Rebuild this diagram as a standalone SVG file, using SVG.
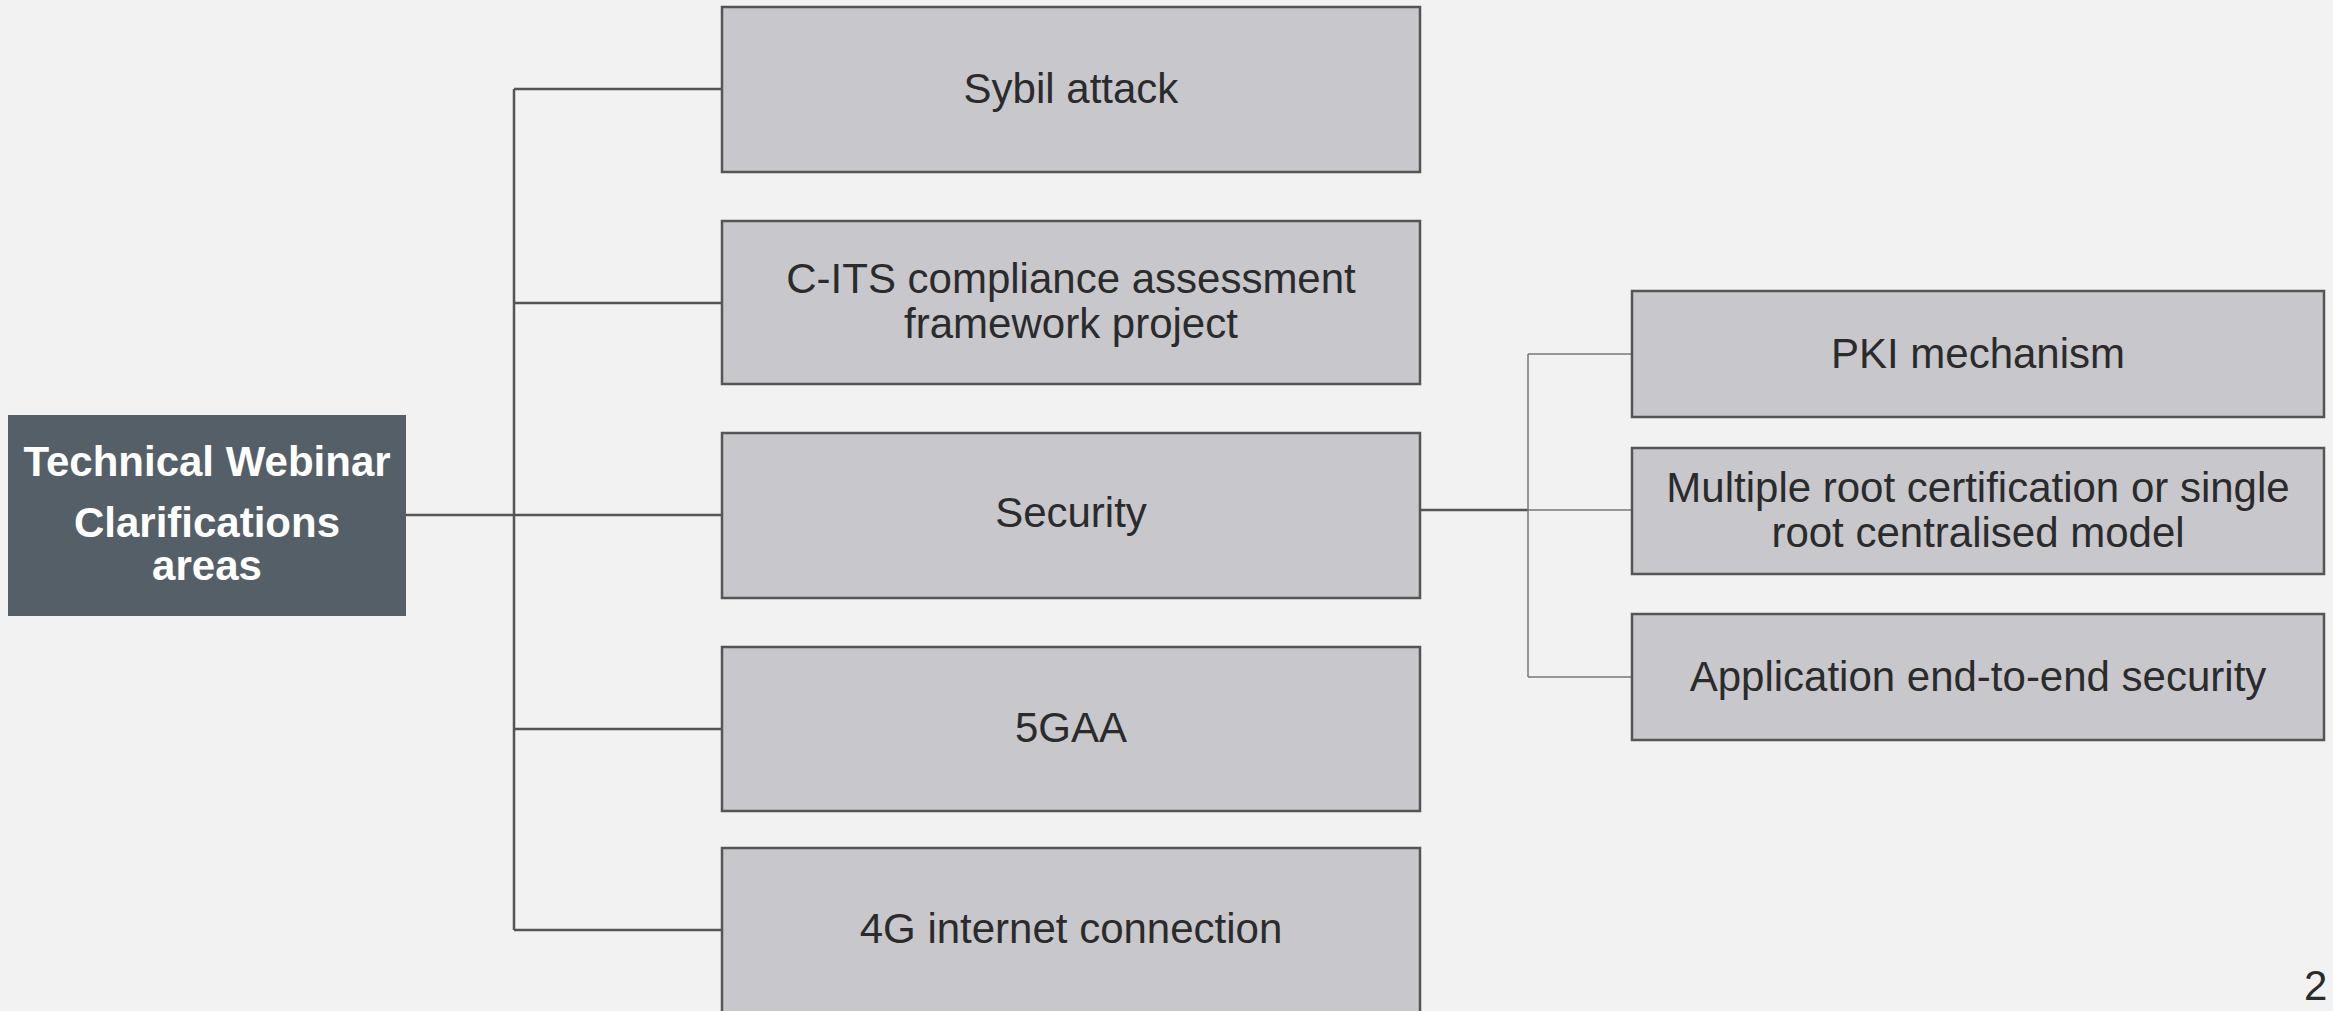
<svg xmlns="http://www.w3.org/2000/svg" width="2333" height="1011" viewBox="0 0 2333 1011">
<style>
.bg{fill:#f2f2f2}
.box{fill:#c8c7cb;stroke:#555555;stroke-width:2.5}
.root{fill:#555f68}
.t{font-family:"Liberation Sans",Arial,sans-serif;font-size:42px;fill:#2b2b2b;text-anchor:middle}
.rt{font-family:"Liberation Sans",Arial,sans-serif;font-size:42px;font-weight:bold;fill:#ffffff;text-anchor:middle}
.c1{fill:none;stroke:#555555;stroke-width:2.5}
.c2{fill:none;stroke:#777777;stroke-width:1.5}
</style>
<rect class="bg" x="0" y="0" width="2333" height="1011"/>
<g id="connectors">
<path class="c1" d="M406,515 H722"/>
<path class="c1" d="M514,89 V930"/>
<path class="c1" d="M514,89 H722"/>
<path class="c1" d="M514,303 H722"/>
<path class="c1" d="M514,729 H722"/>
<path class="c1" d="M514,930 H722"/>
<path class="c1" d="M1420,510 H1528"/>
<path class="c2" d="M1528,354 V677"/>
<path class="c2" d="M1528,354 H1632"/>
<path class="c2" d="M1528,510 H1632"/>
<path class="c2" d="M1528,677 H1632"/>
</g>
<g id="root">
<rect class="root" x="8" y="415" width="398" height="201"/>
<text class="rt" x="207" y="476">Technical Webinar</text>
<text class="rt" x="207" y="537">Clarifications</text>
<text class="rt" x="207" y="580">areas</text>
</g>
<g id="sybil">
<rect class="box" x="722" y="7" width="698" height="165"/>
<text class="t" x="1071" y="103">Sybil attack</text>
</g>
<g id="cits">
<rect class="box" x="722" y="221" width="698" height="163"/>
<text class="t" x="1071" y="293">C-ITS compliance assessment</text>
<text class="t" x="1071" y="338">framework project</text>
</g>
<g id="security">
<rect class="box" x="722" y="433" width="698" height="165"/>
<text class="t" x="1071" y="527">Security</text>
</g>
<g id="fivegaa">
<rect class="box" x="722" y="647" width="698" height="164"/>
<text class="t" x="1071" y="742">5GAA</text>
</g>
<g id="fourg">
<rect class="box" x="722" y="848" width="698" height="170"/>
<text class="t" x="1071" y="943">4G internet connection</text>
</g>
<g id="pki">
<rect class="box" x="1632" y="291" width="692" height="126"/>
<text class="t" x="1978" y="368">PKI mechanism</text>
</g>
<g id="multiroot">
<rect class="box" x="1632" y="448" width="692" height="126"/>
<text class="t" x="1978" y="502">Multiple root certification or single</text>
<text class="t" x="1978" y="547">root centralised model</text>
</g>
<g id="appsec">
<rect class="box" x="1632" y="614" width="692" height="126"/>
<text class="t" x="1978" y="691">Application end-to-end security</text>
</g>
<text class="t" x="2304" y="1000" style="text-anchor:start">2</text>
</svg>
